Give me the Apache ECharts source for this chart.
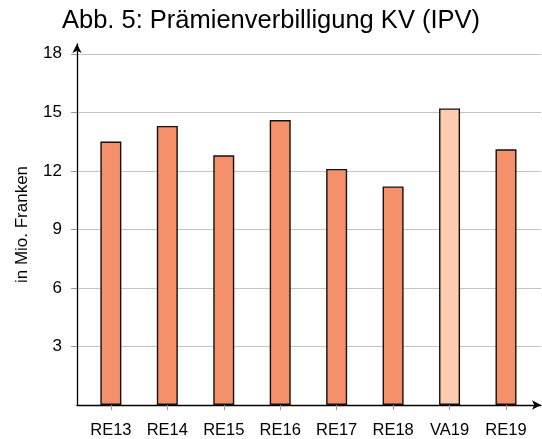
<!DOCTYPE html>
<html><head><meta charset="utf-8">
<script src="https://cdn.jsdelivr.net/npm/echarts@6/dist/echarts.min.js"></script>
<style>html,body{margin:0;padding:0;background:#fff}#c{width:542px;height:439px}</style>
</head><body><div id="c"></div>
<script>
const categories = ['RE13','RE14','RE15','RE16','RE17','RE18','VA19','RE19'];
const values = [13.5, 14.3, 12.8, 14.6, 12.1, 11.2, 15.2, 13.1];
const yTicks = [3, 6, 9, 12, 15, 18];
const titleText = 'Abb. 5: Prämienverbilligung KV (IPV)';
const yName = 'in Mio. Franken';

const FONT = 'Liberation Sans';
const idx = categories.map((c, i) => i);
const chart = echarts.init(document.getElementById('c'), null, {renderer: 'canvas'});
chart.setOption({
  animation: false,
  backgroundColor: '#fff',
  textStyle: {fontFamily: FONT},
  title: {text: titleText, left: 'center', top: 3,
    textStyle: {fontFamily: FONT, fontSize: 25.5, fontWeight: 'normal', color: '#000'}},
  grid: {left: 77, right: 1, top: 44, bottom: 34, containLabel: false},
  xAxis: {
    type: 'value', min: -0.6, max: 7.62,
    axisLine: {show: true, onZero: false, symbol: ['none', 'arrow'], symbolSize: [7, 9], lineStyle: {color: '#000', width: 1.3}},
    axisTick: {show: true, customValues: idx, length: 5, lineStyle: {color: '#999'}},
    axisLabel: {customValues: idx, formatter: v => categories[Math.round(v)], fontSize: 16.5, color: '#000', margin: 17, fontFamily: FONT},
    splitLine: {show: false}
  },
  yAxis: {
    type: 'value', min: 0, max: 18.5,
    name: yName, nameLocation: 'middle', nameGap: 46, nameRotate: 90,
    nameTextStyle: {fontSize: 17, color: '#000', fontFamily: FONT},
    axisLine: {show: true, onZero: false, symbol: ['none', 'arrow'], symbolSize: [7, 9], lineStyle: {color: '#000', width: 1.3}},
    axisTick: {show: true, customValues: yTicks, length: 6, lineStyle: {color: '#999'}},
    axisLabel: {customValues: yTicks, fontSize: 17, color: '#000', margin: 15, fontFamily: FONT},
    splitLine: {show: true, customValues: yTicks, lineStyle: {color: '#c4c4c4', width: 1}}
  },
  series: [{
    type: 'bar', barWidth: 21,
    data: values.map((v, i) => ({
      value: [i, v],
      itemStyle: {color: categories[i] === 'VA19' ? '#fccbb0' : '#f5916a', borderColor: '#111', borderWidth: 1.4}
    }))
  }]
});
</script></body></html>
